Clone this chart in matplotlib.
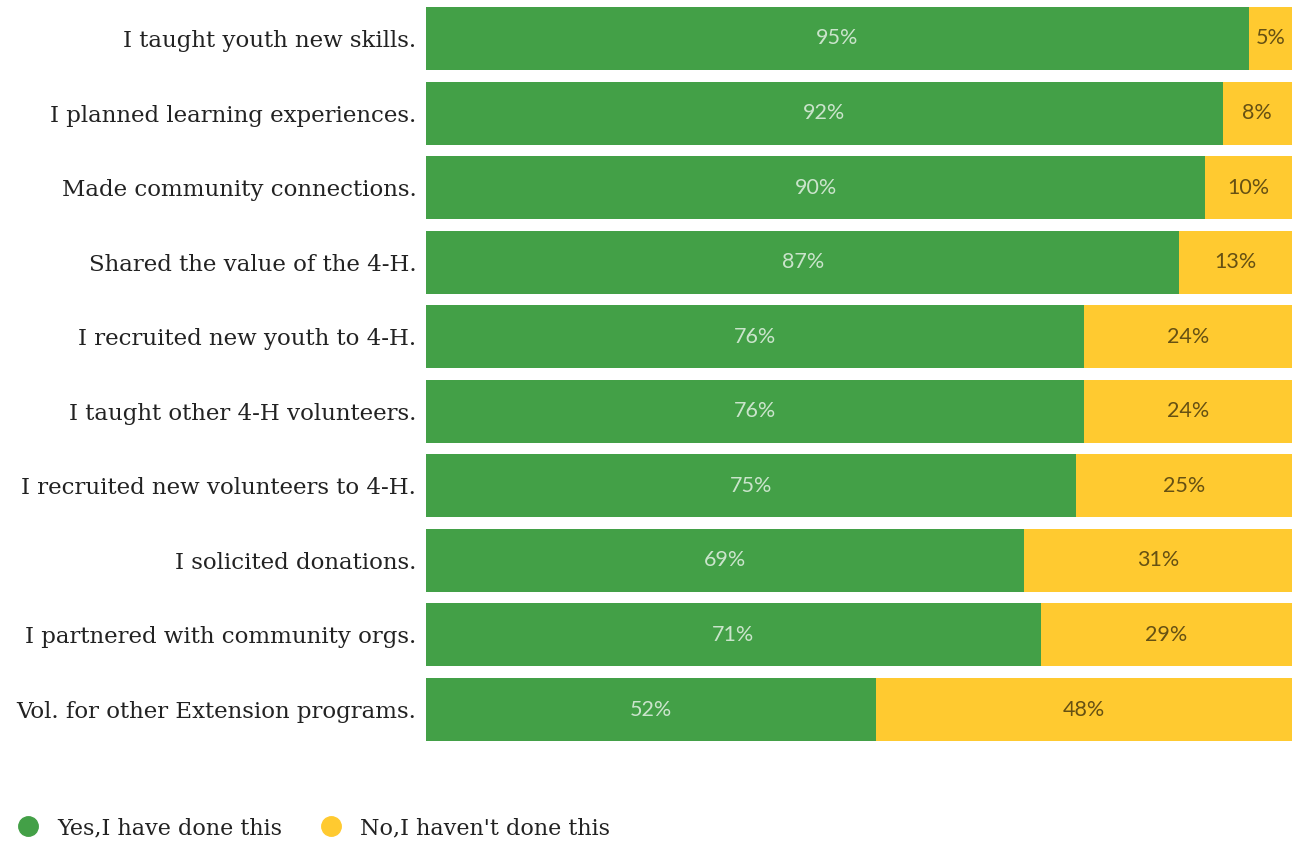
import numpy as np
from matplotlib import pyplot as plt
from matplotlib.lines import Line2D

# survey statements and shares
labels = [
    "I taught youth new skills.",
    "I planned learning experiences.",
    "Made community connections.",
    "Shared the value of the 4-H.",
    "I recruited new youth to 4-H.",
    "I taught other 4-H volunteers.",
    "I recruited new volunteers to 4-H.",
    "I solicited donations.",
    "I partnered with community orgs.",
    "Vol. for other Extension programs.",
]
yes_pct = [95, 92, 90, 87, 76, 76, 75, 69, 71, 52]
no_pct = [5, 8, 10, 13, 24, 24, 25, 31, 29, 48]
series_names = ["Yes,I have done this", "No,I haven't done this"]

green = "#43A047"
yellow = "#FFCA30"
label_font = "DejaVu Serif"
value_font = "Lato"

fig = plt.figure(figsize=(12.96, 8.44), dpi=100)
ax = fig.add_axes([426 / 1296, 1 - 741 / 844, 866 / 1296, 734 / 844])

y = np.arange(len(labels))
h = 0.845
ax.barh(y, yes_pct, height=h, color=green)
ax.barh(y, no_pct, left=yes_pct, height=h, color=yellow)

for i in range(len(labels)):
    ax.text(yes_pct[i] / 2, y[i], f"{yes_pct[i]}%", ha="center", va="center",
            color="white", alpha=0.72, fontsize=15.5, family=value_font)
    ax.text(yes_pct[i] + no_pct[i] / 2, y[i], f"{no_pct[i]}%", ha="center", va="center",
            color="black", alpha=0.6, fontsize=15.5, family=value_font)

ax.set_xlim(0, 100)
ax.set_ylim(len(labels) - 1 + h / 2, -h / 2)
ax.set_yticks(y)
ax.set_yticklabels(labels, fontsize=16.5, family=label_font, color="#222222")
ax.tick_params(axis="y", length=0, pad=7)
ax.set_xticks([])
for s in ax.spines.values():
    s.set_visible(False)

handles = [
    Line2D([], [], marker="o", linestyle="", markersize=14, color=green),
    Line2D([], [], marker="o", linestyle="", markersize=14, color=yellow),
]
leg = fig.legend(handles, series_names, loc="center left", bbox_to_anchor=(-0.011, 1 - 828 / 844),
                 ncol=2, frameon=False, handletextpad=0.3, columnspacing=1.2,
                 prop={"family": label_font, "size": 16})
for t in leg.get_texts():
    t.set_color("#222222")

plt.savefig("out.png", dpi=100)
